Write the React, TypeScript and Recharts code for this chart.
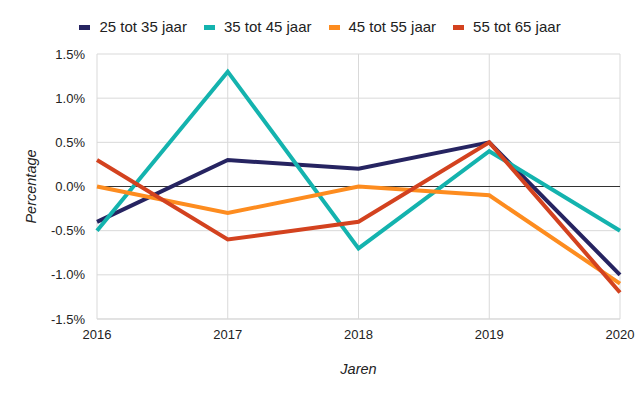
import React from 'react';
import {
  LineChart, Line, XAxis, YAxis, CartesianGrid, ReferenceLine
} from 'recharts';

// Jaren en percentages per leeftijdsgroep
const jaren = ['2016', '2017', '2018', '2019', '2020'];
const groep25tot35 = [-0.4, 0.3, 0.2, 0.5, -1.0];
const groep35tot45 = [-0.5, 1.3, -0.7, 0.4, -0.5];
const groep45tot55 = [0.0, -0.3, 0.0, -0.1, -1.1];
const groep55tot65 = [0.3, -0.6, -0.4, 0.5, -1.2];
const yTicks = [-1.5, -1.0, -0.5, 0, 0.5, 1.0, 1.5];

const series = [
  { key: 'g1', name: '25 tot 35 jaar', color: '#262461', values: groep25tot35 },
  { key: 'g2', name: '35 tot 45 jaar', color: '#14b3ae', values: groep35tot45 },
  { key: 'g3', name: '45 tot 55 jaar', color: '#fd8c1f', values: groep45tot55 },
  { key: 'g4', name: '55 tot 65 jaar', color: '#d3421f', values: groep55tot65 },
];

const data = jaren.map((jaar, i) => {
  const row: Record<string, string | number> = { jaar };
  series.forEach(s => { row[s.key] = s.values[i]; });
  return row;
});

const font = '"Liberation Sans", Arial, sans-serif';

// legenda los boven de grafiek, zodat het plotvlak niet verschuift
const Legenda = () => (
  <div style={{ position: 'absolute', top: 17, left: 0, width: 640, display: 'flex', justifyContent: 'center', gap: 17, fontFamily: font, fontSize: 15, color: '#222', lineHeight: '20px' }}>
    {series.map(s => (
      <div key={s.key} style={{ display: 'flex', alignItems: 'center' }}>
        <span style={{ display: 'inline-block', width: 11, height: 5, background: s.color, marginRight: 9 }} />
        <span>{s.name}</span>
      </div>
    ))}
  </div>
);

const App: React.FC = () => {
  return (
    <div style={{ position: 'absolute', left: 0, top: 0, width: 640, height: 396, background: '#fff' }}>
      <LineChart width={640} height={396} data={data} margin={{ top: 54, right: 20, left: 0, bottom: 0 }}>
        <CartesianGrid stroke="#d9d9d9" strokeWidth={1} />
        <XAxis
          dataKey="jaar"
          height={77}
          axisLine={{ stroke: '#d9d9d9' }}
          tickLine={false}
          tick={{ fontSize: 13, fill: '#222', fontFamily: font }}
          tickMargin={5}
          label={{ value: 'Jaren', position: 'insideTop', dy: 40, style: { fontSize: 14.5, fontStyle: 'italic', fill: '#222', fontFamily: font } }}
        />
        <YAxis
          width={97}
          domain={[-1.5, 1.5]}
          ticks={yTicks}
          interval={0}
          axisLine={false}
          tickLine={false}
          tickMargin={6}
          tickFormatter={(v: number) => `${v.toFixed(1)}%`}
          tick={{ fontSize: 13, fill: '#222', fontFamily: font }}
          label={{ value: 'Percentage', angle: -90, position: 'insideLeft', dx: 26, style: { textAnchor: 'middle', fontSize: 14.5, fontStyle: 'italic', fill: '#222', fontFamily: font } }}
        />
        <ReferenceLine y={0} stroke="#333" strokeWidth={1} />
        {series.map(s => (
          <Line
            key={s.key}
            dataKey={s.key}
            name={s.name}
            stroke={s.color}
            strokeWidth={4}
            dot={false}
            type="linear"
            isAnimationActive={false}
          />
        ))}
      </LineChart>
      <Legenda />
    </div>
  );
};

export default App;
